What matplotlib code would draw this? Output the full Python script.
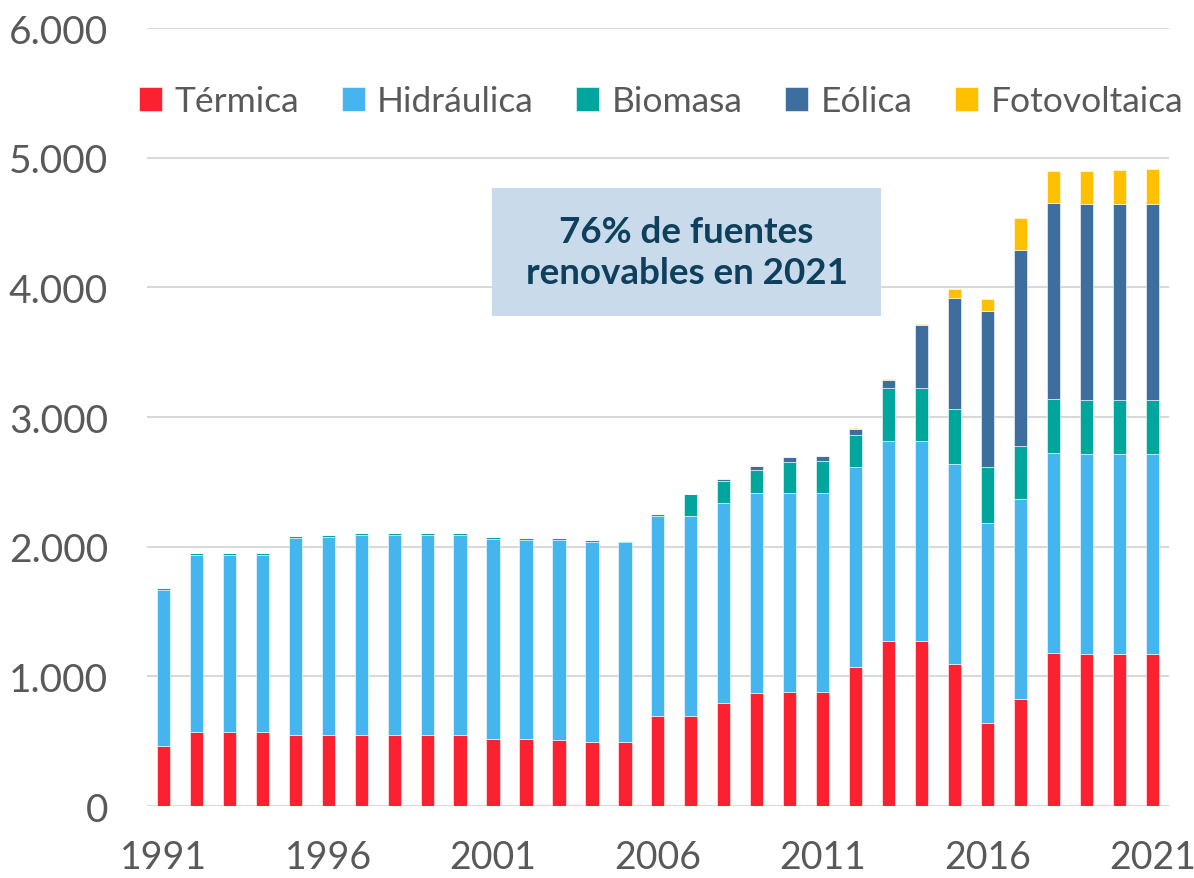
import matplotlib
matplotlib.use("Agg")
import matplotlib.pyplot as plt
import numpy as np
from matplotlib.patches import Rectangle

plt.rcParams['font.family'] = ['Lato', 'DejaVu Sans']

# Data (MW)
years = list(range(1991, 2022))
termica = [460, 572, 572, 572, 546, 546, 546, 546, 546, 548,
           517, 515, 510, 494, 492, 693, 693, 795, 873, 876,
           876, 1073, 1275, 1275, 1097, 643, 823, 1182, 1174, 1174,
           1174]
hidraulica = [1206, 1366, 1364, 1364, 1524, 1531, 1544, 1544, 1544, 1542,
              1542, 1539, 1542, 1542, 1544, 1544, 1542, 1542, 1542, 1538,
              1538, 1541, 1540, 1540, 1543, 1538, 1544, 1540, 1540, 1540,
              1540]
biomasa = [18, 16, 13, 13, 15, 13, 13, 13, 13, 16,
           13, 13, 13, 13, 11, 13, 170, 173, 180, 239,
           247, 244, 412, 412, 425, 430, 411, 420, 415, 415,
           415]
eolica = [0, 0, 0, 0, 0, 0, 0, 0, 0, 0,
          0, 0, 0, 0, 0, 0, 0, 15, 25, 37,
          40, 53, 58, 483, 853, 1206, 1510, 1508, 1514, 1514,
          1514]
fotovoltaica = [0, 0, 0, 0, 0, 0, 0, 0, 0, 0,
                0, 0, 0, 0, 0, 0, 0, 0, 0, 0,
                0, 2, 5, 5, 67, 90, 244, 247, 254, 259,
                267]

series = ['Térmica', 'Hidráulica', 'Biomasa', 'Eólica', 'Fotovoltaica']
colors = ['#FC2130', '#44B5EE', '#00A59B', '#3E6E9E', '#FFC000']
values = [termica, hidraulica, biomasa, eolica, fotovoltaica]

fig = plt.figure(figsize=(11.94, 8.79), dpi=100)
ax = fig.add_axes([0.123, 0.0819, 0.856, 0.885])

bottom = np.zeros(len(years))
for name, col, vals in zip(series, colors, values):
    vals = np.array(vals, dtype=float)
    ax.bar(years, vals, width=0.4, bottom=bottom, color=col, label=name,
           edgecolor='white', linewidth=0.4, zorder=3)
    bottom += vals

ax.set_xlim(1990.5, 2021.5)
ax.set_ylim(0, 6000)
ax.set_yticks(range(0, 6001, 1000))
ax.set_yticklabels([f"{v:,}".replace(',', '.') for v in range(0, 6001, 1000)])
ax.set_xticks(years[::5])
ax.set_xticklabels([str(y) for y in years[::5]])
ax.tick_params(axis='both', length=0, colors='#595959')
ax.tick_params(axis='y', pad=28, labelsize=28)
ax.tick_params(axis='x', pad=24, labelsize=27)
ax.grid(axis='y', color='#D9D9D9', linewidth=1.5, zorder=0)
for s in ax.spines.values():
    s.set_visible(False)

leg = ax.legend(loc='center', bbox_to_anchor=(0.503, 0.906), ncol=5, frameon=False,
                fontsize=25.5, handlelength=0.65, handleheight=0.65, handletextpad=0.35,
                columnspacing=1.2, labelcolor='#595959')

# Annotation box
fig.patches.append(Rectangle((492 / 1194, 1 - 317 / 879), 389 / 1194, 128 / 879,
                             transform=fig.transFigure, facecolor='#C9DAEA',
                             edgecolor='none', zorder=5))
fig.text(686.5 / 1194, 1 - 253 / 879, '76% de fuentes\nrenovables en 2021',
         ha='center', va='center', fontsize=26.5, fontweight='bold',
         color='#0E3F5C', linespacing=1.3, zorder=6)

fig.savefig('out.png', dpi=100)
